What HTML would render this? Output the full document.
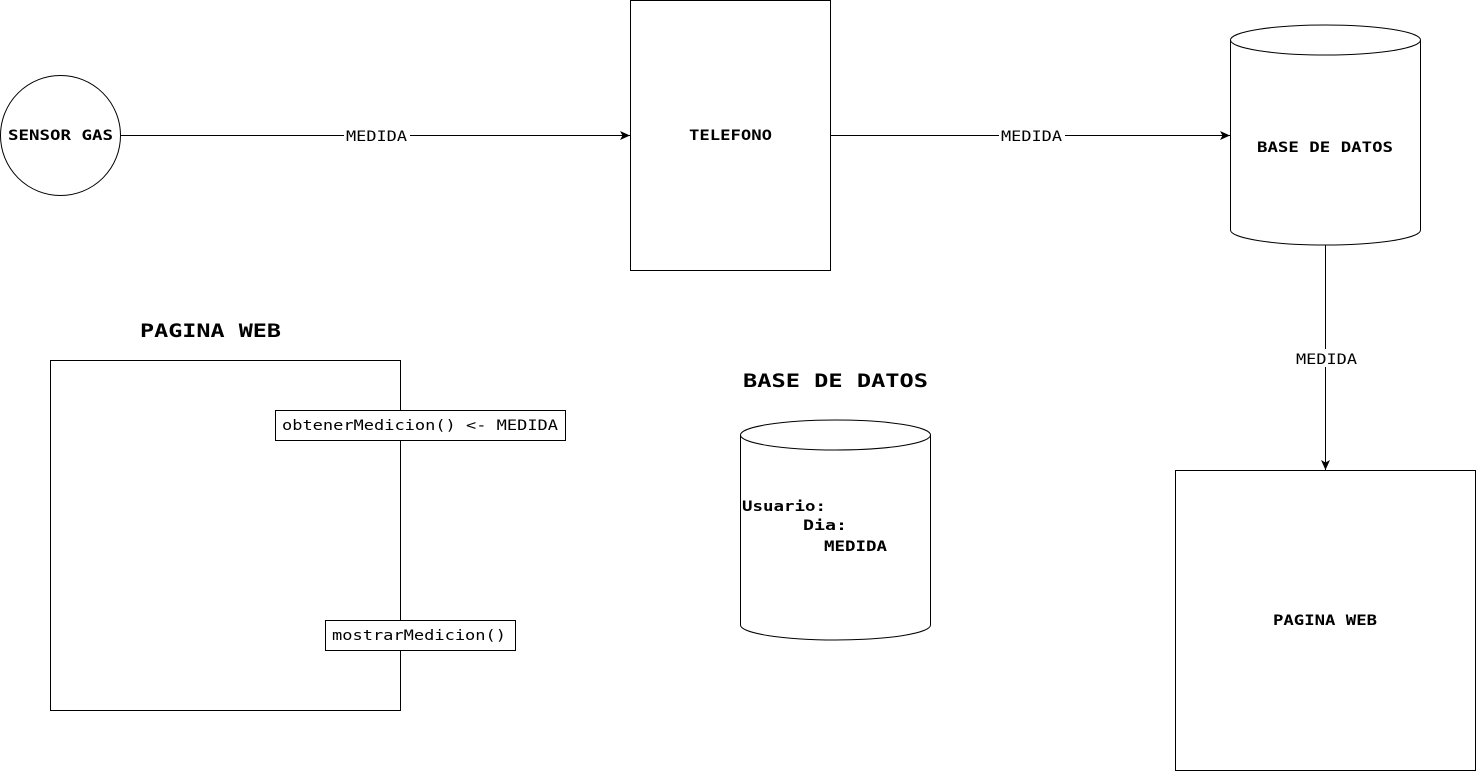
<!DOCTYPE html>
<html><head><meta charset="utf-8"><style>
html,body{margin:0;padding:0;background:#fff;width:1477px;height:771px;overflow:hidden}
text{font-family:"DejaVu Sans Mono","Liberation Mono",monospace;fill:#000}
.b{font-weight:bold}
</style></head><body>
<svg width="1477" height="771" viewBox="0 0 1477 771" xmlns="http://www.w3.org/2000/svg">
<defs><marker id="a" markerWidth="12" markerHeight="10" refX="10" refY="5" orient="auto" markerUnits="userSpaceOnUse"><path d="M0,0.5 L10,5 L0,9.5 L2.5,5 Z" fill="#000"/></marker></defs>
<g fill="none" stroke="#000" stroke-width="1">
<circle cx="60.5" cy="135.5" r="60"/>
<rect x="630.5" y="0.5" width="200" height="270"/>
<path d="M1230.5,40 L1230.5,230 A95,15 0 0 0 1420.5,230 L1420.5,40"/>
<ellipse cx="1325.5" cy="40" rx="95" ry="15" fill="#fff"/>
<rect x="1175.5" y="470.5" width="300" height="300"/>
<rect x="50.5" y="360.5" width="350" height="350"/>
<path d="M740.5,435 L740.5,625 A95,15 0 0 0 930.5,625 L930.5,435"/>
<ellipse cx="835.5" cy="435" rx="95" ry="15" fill="#fff"/>
<line x1="120.5" y1="135.5" x2="630" y2="135.5" marker-end="url(#a)"/>
<line x1="830.5" y1="135.5" x2="1230" y2="135.5" marker-end="url(#a)"/>
<line x1="1325.5" y1="245" x2="1325.5" y2="470" marker-end="url(#a)"/>
</g>
<rect x="344" y="127" width="66" height="16" fill="#fff"/>
<rect x="999" y="127" width="66" height="16" fill="#fff"/>
<rect x="1293" y="349" width="66" height="18" fill="#fff"/>
<text x="346" y="141" font-size="14" textLength="61" lengthAdjust="spacingAndGlyphs">MEDIDA</text>
<text x="1001" y="141" font-size="14" textLength="61" lengthAdjust="spacingAndGlyphs">MEDIDA</text>
<text x="1296" y="364" font-size="14" textLength="61" lengthAdjust="spacingAndGlyphs">MEDIDA</text>
<text class="b" x="8" y="140" font-size="14" textLength="105" lengthAdjust="spacingAndGlyphs">SENSOR GAS</text>
<text class="b" x="689" y="140" font-size="14" textLength="83" lengthAdjust="spacingAndGlyphs">TELEFONO</text>
<text class="b" x="1257" y="152" font-size="14" textLength="136" lengthAdjust="spacingAndGlyphs">BASE DE DATOS</text>
<text class="b" x="1273" y="625" font-size="14" textLength="104" lengthAdjust="spacingAndGlyphs">PAGINA WEB</text>
<text class="b" x="140" y="337" font-size="19" textLength="141" lengthAdjust="spacingAndGlyphs">PAGINA WEB</text>
<text class="b" x="743" y="387" font-size="19" textLength="185" lengthAdjust="spacingAndGlyphs">BASE DE DATOS</text>
<rect x="275.5" y="410.5" width="290" height="30" fill="#fff" stroke="#000"/>
<text x="282" y="430" font-size="14" textLength="276" lengthAdjust="spacingAndGlyphs">obtenerMedicion() &lt;- MEDIDA</text>
<rect x="325.5" y="620.5" width="190" height="30" fill="#fff" stroke="#000"/>
<text x="332" y="640" font-size="14" textLength="174" lengthAdjust="spacingAndGlyphs">mostrarMedicion()</text>
<text class="b" x="742" y="511" font-size="14" textLength="84" lengthAdjust="spacingAndGlyphs">Usuario:</text>
<text class="b" x="803" y="530" font-size="14" textLength="44" lengthAdjust="spacingAndGlyphs">Dia:</text>
<text class="b" x="824" y="551" font-size="14" textLength="63" lengthAdjust="spacingAndGlyphs">MEDIDA</text>
</svg>
</body></html>
